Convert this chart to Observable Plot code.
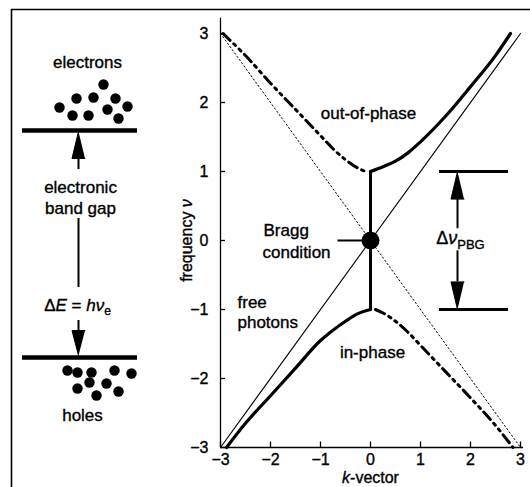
<!DOCTYPE html>
<html>
<head>
<meta charset="utf-8">
<script src="https://cdn.jsdelivr.net/npm/d3@7"></script>
<script src="https://cdn.jsdelivr.net/npm/@observablehq/plot@0.6"></script>
<style>
  html, body { margin: 0; padding: 0; background: #fff; }
  #wrap { position: relative; width: 530px; height: 487px; overflow: hidden; background: #fff; }
  #wrap svg { position: absolute; left: 0; top: 0; }
  #wrap text { stroke: black; stroke-width: 0.35px; }
</style>
</head>
<body>
<div id="wrap"></div>
<script>
// ---------- data ----------
const xTicks = [-3, -2, -1, 0, 1, 2, 3];
const yTicks = [-3, -2, -1, 0, 1, 2, 3];

// free photon light line (thin solid) and its folded twin (thin dotted)
const freeK = [-3, 3];
const freeNu = [-3, 3];
const foldK = [-3, 3];
const foldNu = [3, -3];

// upper band, out-of-phase (solid part, k > 0)
const outSolidK  = [0, 0.25, 0.5, 0.75, 1, 1.5, 2, 2.5, 2.8];
const outSolidNu = [1.0, 1.07, 1.15, 1.27, 1.43, 1.8, 2.23, 2.68, 3.0];
// upper band, out-of-phase (dash-dot part, k < 0)
const outDashK  = [-2.95, -2.5, -2, -1.5, -1, -0.75, -0.5, -0.25, -0.1];
const outDashNu = [3.0, 2.68, 2.28, 1.9, 1.52, 1.33, 1.17, 1.05, 1.0];
// lower band, in-phase (solid part, k < 0)
const inSolidK  = [-2.88, -2.5, -2, -1.5, -1, -0.75, -0.5, -0.25, 0];
const inSolidNu = [-3.0, -2.65, -2.25, -1.85, -1.45, -1.3, -1.17, -1.06, -1.0];
// lower band, in-phase (dash-dot part, k > 0)
const inDashK  = [0.1, 0.25, 0.5, 0.75, 1, 1.5, 2, 2.5, 2.85];
const inDashNu = [-1.0, -1.05, -1.17, -1.33, -1.52, -1.9, -2.28, -2.68, -3.0];

// gap at k = 0 and the Bragg point
const gapTop = 1, gapBottom = -1;
const braggK = 0, braggNu = 0;

// labels on the band diagram
const centerLabels = [
  {text: "out-of-phase", k: -0.04, nu: 1.84},
  {text: "in-phase", k: 0.04, nu: -1.62}
];
const leftLabels = [
  {text: "Bragg", k: -2.14, nu: 0.15},
  {text: "condition", k: -2.16, nu: -0.17},
  {text: "free", k: -2.66, nu: -0.9},
  {text: "photons", k: -2.66, nu: -1.19}
];

// schematic (left panel) in its own units
const electronX = [103, 76, 93, 115, 59, 107, 127, 72, 88, 118];
const electronY = [84, 98, 97, 98, 107, 109, 106, 115, 115, 118];
const holeX = [67, 77, 91, 114, 131, 89, 77, 106, 118, 96];
const holeY = [370, 372, 372, 370, 373, 382, 388, 383, 391, 395];
const schemLabels = [
  {text: "electrons", x: 87, y: 62},
  {text: "electronic", x: 80, y: 187},
  {text: "band gap", x: 80, y: 208},
  {text: "ΔE = hνe", x: 77, y: 305},
  {text: "holes", x: 82, y: 415}
];

// ---------- helpers ----------
const pts = (ks, ns) => ks.map((k, i) => ({k, nu: ns[i]}));
const fmt = d => d < 0 ? "\u2212" + Math.abs(d) : String(d);
const FONT = "'Liberation Sans', Arial, Helvetica, sans-serif";
const dashDot = "10,5,2.5,5,2.5,5";

// arrowheads for Δν_PBG
const pbgK = 1.74;
const pbgHeads = [
  {id: "up", k: pbgK, nu: 1.0}, {id: "up", k: pbgK - 0.13, nu: 0.6}, {id: "up", k: pbgK + 0.13, nu: 0.6},
  {id: "dn", k: pbgK, nu: -1.0}, {id: "dn", k: pbgK - 0.13, nu: -0.6}, {id: "dn", k: pbgK + 0.13, nu: -0.6}
];

const main = Plot.plot({
  width: 530, height: 487,
  marginLeft: 220, marginRight: 10, marginTop: 33, marginBottom: 40,
  x: {domain: [-3, 3], axis: null},
  y: {domain: [-3, 3], axis: null},
  style: {fontFamily: FONT, fontSize: "15px", background: "transparent", overflow: "visible", color: "black"},
  marks: [
    // axes
    Plot.ruleX([-3], {y1: -3, y2: 3.22, strokeWidth: 1.3}),
    Plot.ruleY([-3], {x1: -3, x2: 3.06, strokeWidth: 1.3}),
    Plot.ruleY(yTicks, {x1: -3, x2: -2.9, strokeWidth: 1.3}),
    Plot.ruleX(xTicks, {y1: -3, y2: -2.92, strokeWidth: 1.3}),
    Plot.text(yTicks, {x: -3, y: d => d, dx: -12, textAnchor: "end", text: fmt, fontSize: 16}),
    Plot.text(xTicks, {x: d => d, y: -3, dy: 12, text: fmt, fontSize: 16}),
    Plot.text(["frequency ν"], {x: -3.68, y: 0, rotate: -90, text: d => d, fontSize: 16}),
    Plot.text(["k-vector"], {x: 0, y: -3.44, text: d => d, fontSize: 16}),
    // light lines
    Plot.line(pts(freeK, freeNu), {x: "k", y: "nu", strokeWidth: 1.1}),
    Plot.line(pts(foldK, foldNu), {x: "k", y: "nu", strokeWidth: 1, strokeDasharray: "1.5,2.5"}),
    // bands
    Plot.line(pts(outSolidK, outSolidNu), {x: "k", y: "nu", strokeWidth: 3.2, curve: "monotone-x"}),
    Plot.line(pts(outDashK, outDashNu), {x: "k", y: "nu", strokeWidth: 3, curve: "monotone-x", strokeDasharray: dashDot}),
    Plot.line(pts(inSolidK, inSolidNu), {x: "k", y: "nu", strokeWidth: 3.2, curve: "monotone-x"}),
    Plot.line(pts(inDashK, inDashNu), {x: "k", y: "nu", strokeWidth: 3, curve: "monotone-x", strokeDasharray: dashDot}),
    // gap at Bragg condition
    Plot.ruleX([braggK], {y1: gapBottom, y2: gapTop, strokeWidth: 3}),
    Plot.ruleY([braggNu], {x1: -0.65, x2: braggK, strokeWidth: 2}),
    Plot.dot([{k: braggK, nu: braggNu}], {x: "k", y: "nu", r: 9, fill: "black", stroke: "none"}),
    // photonic band gap marker
    Plot.ruleY([gapTop, gapBottom], {x1: 1.38, x2: 2.76, strokeWidth: 3}),
    Plot.ruleX([pbgK], {y1: 0.17, y2: 0.6, strokeWidth: 2}),
    Plot.ruleX([pbgK], {y1: -0.15, y2: -0.6, strokeWidth: 2}),
    Plot.line(pbgHeads, {x: "k", y: "nu", z: "id", fill: "black", stroke: "black", strokeWidth: 1}),
    Plot.text(["ΔνPBG"], {x: 1.8, y: 0.03, text: d => d, fontSize: 18}),
    // band labels
    Plot.text(centerLabels, {x: "k", y: "nu", text: "text", fontSize: 17}),
    Plot.text(leftLabels, {x: "k", y: "nu", text: "text", textAnchor: "start", fontSize: 17})
  ]
});

// schematic of the electronic band gap
const schemArrowHeads = [
  {id: "up", x: 78, y: 131}, {id: "up", x: 71.5, y: 158}, {id: "up", x: 84.5, y: 158},
  {id: "dn", x: 78, y: 355}, {id: "dn", x: 71.5, y: 330}, {id: "dn", x: 84.5, y: 330}
];
const schem = Plot.plot({
  width: 530, height: 487,
  marginLeft: 0, marginRight: 0, marginTop: 0, marginBottom: 0,
  x: {domain: [0, 530], range: [0, 530], axis: null},
  y: {domain: [0, 487], range: [0, 487], axis: null},
  style: {fontFamily: FONT, fontSize: "17px", background: "transparent", overflow: "visible", color: "black"},
  marks: [
    // outer frame
    Plot.ruleY([9], {x1: 11, x2: 530, strokeWidth: 1.6}),
    Plot.ruleX([11], {y1: 9, y2: 487, strokeWidth: 1.6}),
    // levels
    Plot.ruleY([130, 357], {x1: 22, x2: 137, strokeWidth: 4.5}),
    // arrow shafts
    Plot.ruleX([78], {y1: 156, y2: 169, strokeWidth: 2}),
    Plot.ruleX([78], {y1: 218, y2: 287, strokeWidth: 2}),
    Plot.ruleX([78], {y1: 320, y2: 332, strokeWidth: 2}),
    Plot.line(schemArrowHeads, {x: "x", y: "y", z: "id", fill: "black", stroke: "black", strokeWidth: 1}),
    // carriers
    Plot.dot(electronX.map((x, i) => ({x, y: electronY[i]})), {x: "x", y: "y", r: 5.2, fill: "black", stroke: "none"}),
    Plot.dot(holeX.map((x, i) => ({x, y: holeY[i]})), {x: "x", y: "y", r: 5.2, fill: "black", stroke: "none"}),
    Plot.text(schemLabels, {x: "x", y: "y", text: "text", fontSize: 17})
  ]
});

const wrap = document.getElementById("wrap");
wrap.appendChild(main);
wrap.appendChild(schem);

// rich text: italics and subscripts
function rich(svg, plain, parts) {
  d3.select(svg).selectAll("text").each(function() {
    if (this.textContent === plain) {
      const t = d3.select(this);
      t.text(null);
      for (const p of parts) {
        const s = t.append("tspan").text(p.t);
        if (p.i) s.attr("font-style", "italic");
        if (p.sub) s.attr("dy", p.sub).attr("font-size", p.fs);
      }
    }
  });
}
rich(main, "frequency ν", [{t: "frequency "}, {t: "ν", i: true}]);
rich(main, "k-vector", [{t: "k", i: true}, {t: "-vector"}]);
rich(main, "ΔνPBG", [{t: "Δ"}, {t: "ν", i: true}, {t: "PBG", sub: "0.35em", fs: "13px"}]);
rich(schem, "ΔE = hνe", [{t: "Δ"}, {t: "E", i: true}, {t: " = "}, {t: "hν", i: true}, {t: "e", sub: "0.3em", fs: "12px"}]);
</script>
</body>
</html>
